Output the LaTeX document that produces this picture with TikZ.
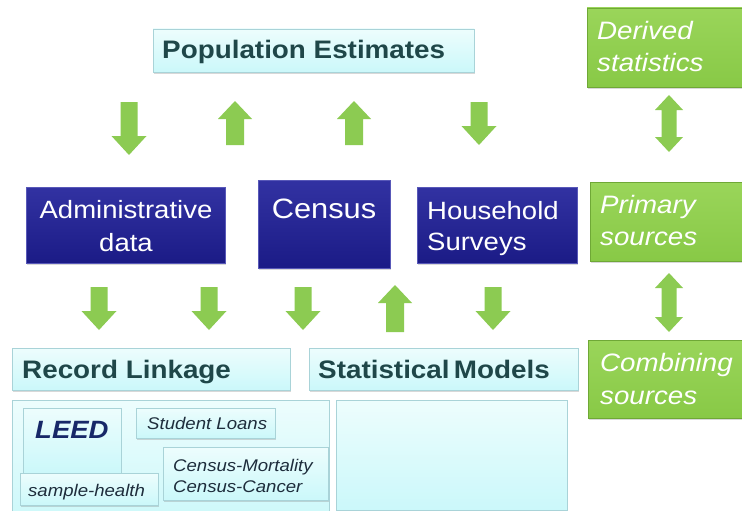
\documentclass[tikz,border=0pt]{standalone}
\usepackage{fontspec}
\setmainfont{Liberation Sans}[FakeStretch=1.1]
\usetikzlibrary{shadows}
\definecolor{lightA}{HTML}{EDFDFD}
\definecolor{lightB}{HTML}{CBF8FA}
\definecolor{lightEdge}{HTML}{A9D3D8}
\definecolor{tealText}{HTML}{1F4749}
\definecolor{blueA}{HTML}{3232A2}
\definecolor{blueB}{HTML}{1B1B86}
\definecolor{blueEdge}{HTML}{5858B8}
\definecolor{greenA}{HTML}{9AD55A}
\definecolor{greenB}{HTML}{88C946}
\definecolor{greenEdge}{HTML}{6FA836}
\definecolor{arrowGreen}{HTML}{8CCB52}
\definecolor{navyText}{HTML}{172868}
\definecolor{grayText}{HTML}{1E2D3C}
\tikzset{
  boxbase/.style={rectangle, inner sep=0pt, outer sep=0pt, anchor=north west, line width=0.8pt},
  shadowed/.style={drop shadow={shadow xshift=1pt, shadow yshift=-2pt, opacity=0.3}},
  lightbox/.style={boxbase, shadowed, draw=lightEdge, top color=lightA, bottom color=lightB},
  bluebox/.style={boxbase, shadowed, draw=blueEdge, top color=blueA, bottom color=blueB},
  greenbox/.style={boxbase, shadowed, draw=greenEdge, top color=greenA, bottom color=greenB},
  headtext/.style={anchor=base west, inner sep=0pt, text=tealText, font=\fontsize{25.3}{30}\selectfont\bfseries},
  whitetext/.style={anchor=base, inner sep=0pt, text=white, font=\fontsize{25}{30}\selectfont},
  greentext/.style={anchor=base west, inner sep=0pt, text=white, font=\fontsize{25.2}{30}\selectfont\itshape},
  smalltext/.style={anchor=base west, inner sep=0pt, text=grayText, font=\fontsize{16.9}{20}\selectfont\itshape},
  arrowfill/.style={fill=arrowGreen},
}
\newcommand\ArrDown[3]{%
  \fill[arrowfill] (#1-8.5,#2) -- (#1+8.5,#2) -- (#1+8.5,#3-19) -- (#1+17.5,#3-19) -- (#1,#3)
    -- (#1-17.5,#3-19) -- (#1-8.5,#3-19) -- cycle;}
\newcommand\ArrUp[3]{%
  \fill[arrowfill] (#1,#2) -- (#1+17,#2+18) -- (#1+9,#2+18) -- (#1+9,#3) -- (#1-9,#3)
    -- (#1-9,#2+18) -- (#1-17,#2+18) -- cycle;}
\newcommand\ArrBoth[3]{%
  \fill[arrowfill] (#1,#2) -- (#1+14,#2+15) -- (#1+7.5,#2+15) -- (#1+7.5,#3-15) -- (#1+14,#3-15)
    -- (#1,#3) -- (#1-14,#3-15) -- (#1-7.5,#3-15) -- (#1-7.5,#2+15) -- (#1-14,#2+15) -- cycle;}
\begin{document}
\begin{tikzpicture}[x=1pt,y=-1pt]
\useasboundingbox (0,0) rectangle (742,511);
\fill[white] (0,0) rectangle (742,511);

% top box
\node[lightbox, minimum width=321pt, minimum height=43pt] (pe) at (153,29) {};
\node[headtext] (peT) at (162,59) {Population Estimates};

% green side boxes
\node[greenbox, minimum width=158pt, minimum height=79pt] (ds) at (587,8) {};
\node[greentext] (dsT1) at (597,40) {Derived};
\node[greentext] (dsT2) at (597,72) {statistics};
\node[greenbox, minimum width=155pt, minimum height=79pt] (ps) at (590,182) {};
\node[greentext] (psT1) at (600,213) {Primary};
\node[greentext] (psT2) at (600,245) {sources};
\node[greenbox, minimum width=157pt, minimum height=78pt] (cs) at (588,340) {};
\node[greentext] (csT1) at (600,371) {Combining};
\node[greentext] (csT2) at (600,404) {sources};

% blue boxes
\node[bluebox, minimum width=199pt, minimum height=76pt] (ad) at (26,187) {};
\node[whitetext] (adT1) at (126,218) {Administrative};
\node[whitetext] (adT2) at (126,251) {data};
\node[bluebox, minimum width=132pt, minimum height=88pt] (ce) at (258,180) {};
\node[whitetext, font=\fontsize{28}{34}\selectfont] (ceT) at (324,218) {Census};
\node[bluebox, minimum width=160pt, minimum height=76pt] (hs) at (417,187) {};
\node[whitetext, anchor=base west] (hsT1) at (427,219) {Household};
\node[whitetext, anchor=base west] (hsT2) at (427,250) {Surveys};

% method boxes
\node[lightbox, minimum width=278pt, minimum height=42pt] (rl) at (12,348) {};
\node[headtext] (rlT) at (22,378) {Record Linkage};
\node[lightbox, minimum width=269pt, minimum height=42pt] (sm) at (309,348) {};
\node[headtext] (smT) at (318,378) {Statistical\,Models};

% lower containers
\node[lightbox, minimum width=317pt, minimum height=125pt] (rlc) at (12,400) {};
\node[lightbox, minimum width=231pt, minimum height=110pt] (smc) at (336,400) {};

% record linkage examples
\node[lightbox, minimum width=98pt, minimum height=65pt] (leed) at (23,408) {};
\node[anchor=base west, inner sep=0pt, text=navyText, font=\fontsize{25}{30}\selectfont\bfseries\itshape] (leedT) at (35,438) {LEED};
\node[lightbox, minimum width=139pt, minimum height=30pt] (sl) at (136,408) {};
\node[smalltext] (slT) at (147,429) {Student Loans};
\node[lightbox, minimum width=165pt, minimum height=53pt] (cm) at (163,447) {};
\node[smalltext] (cmT1) at (173,471) {Census-Mortality};
\node[smalltext] (cmT2) at (173,492) {Census-Cancer};
\node[lightbox, minimum width=138pt, minimum height=32pt] (sh) at (20,473) {};
\node[smalltext] (shT) at (28,496) {sample-health};

% arrows, upper row
\ArrDown{129}{102}{155}
\ArrUp{235}{101}{145}
\ArrUp{354}{101}{145}
\ArrDown{479}{102}{145}
% arrows, lower row
\ArrDown{99}{287}{330}
\ArrDown{209}{287}{330}
\ArrDown{303}{287}{330}
\ArrUp{395}{285}{332}
\ArrDown{493}{287}{330}
% side double arrows
\ArrBoth{669}{95}{152}
\ArrBoth{669}{273}{332}
\end{tikzpicture}
\end{document}
